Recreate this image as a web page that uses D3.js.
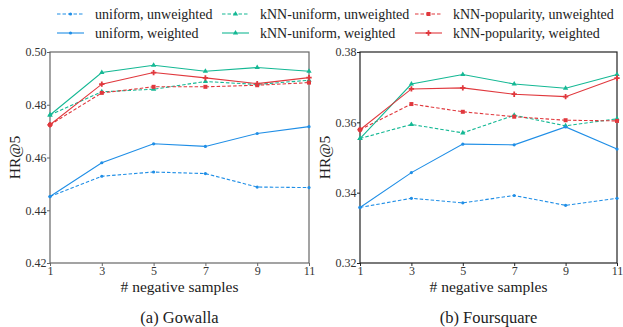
<!DOCTYPE html>
<html><head><meta charset="utf-8">
<script src="https://cdn.jsdelivr.net/npm/d3@7"></script>
<style>body{margin:0;background:#fff;} svg{display:block;} svg text{font-family:'Liberation Serif';}</style>
</head><body>
<script>
const xValues = [1, 3, 5, 7, 9, 11];
const seriesNames = ["uniform, unweighted","kNN-uniform, unweighted","kNN-popularity, unweighted","uniform, weighted","kNN-uniform, weighted","kNN-popularity, weighted"];
// Gowalla
const gowallaUniformUnw = [0.4452, 0.4529, 0.4545, 0.4539, 0.4488, 0.4486];
const gowallaKnnUniUnw = [0.4761, 0.4849, 0.4859, 0.4888, 0.4877, 0.4893];
const gowallaKnnPopUnw = [0.4724, 0.4845, 0.4868, 0.4868, 0.4874, 0.4884];
const gowallaUniformW = [0.4452, 0.4580, 0.4652, 0.4642, 0.4691, 0.4717];
const gowallaKnnUniW = [0.4761, 0.4922, 0.4950, 0.4927, 0.4941, 0.4927];
const gowallaKnnPopW = [0.4724, 0.4878, 0.4922, 0.4902, 0.4880, 0.4903];
// Foursquare
const fsqUniformUnw = [0.3358, 0.3384, 0.3371, 0.3392, 0.3364, 0.3384];
const fsqKnnUniUnw = [0.3554, 0.3594, 0.3570, 0.3620, 0.3590, 0.3610];
const fsqKnnPopUnw = [0.3579, 0.3652, 0.3630, 0.3616, 0.3606, 0.3604];
const fsqUniformW = [0.3358, 0.3457, 0.3538, 0.3536, 0.3587, 0.3524];
const fsqKnnUniW = [0.3554, 0.3709, 0.3736, 0.3709, 0.3697, 0.3736];
const fsqKnnPopW = [0.3579, 0.3695, 0.3698, 0.3680, 0.3673, 0.3726];
const gowallaYTicks = [0.42, 0.44, 0.46, 0.48, 0.50];
const fsqYTicks = [0.32, 0.34, 0.36, 0.38];

const colors = ["#1f8ee6","#14b894","#e0383d","#1f8ee6","#14b894","#e0383d"];
const dashed = [true,true,true,false,false,false];
const markers = ["circle","triangle","square","circle","triangle","cross"];
const FONT = "Liberation Serif";

const W=623,H=327;
const svg=d3.select("body").append("svg").attr("width",W).attr("height",H);

function drawMarker(g, type, x, y, color){
  if(type==="circle") g.append("circle").attr("cx",x).attr("cy",y).attr("r",1.6).attr("fill",color);
  else if(type==="square") g.append("rect").attr("x",x-2).attr("y",y-2).attr("width",4).attr("height",4).attr("fill",color);
  else if(type==="triangle") g.append("path").attr("d",d3.symbol(d3.symbolTriangle,12)()).attr("transform",`translate(${x},${y})`).attr("fill",color);
  else g.append("path").attr("d",d3.symbol(d3.symbolCross,16)()).attr("transform",`translate(${x},${y})`).attr("fill",color);
}

function panel(x0,x1,yTop,yBot,domain,ticks,series,title,ylabX,frame){
  const x=d3.scaleLinear().domain([1,11]).range([x0,x1]);
  const y=d3.scaleLinear().domain(domain).range([yBot,yTop]);
  const g=svg.append("g");
  const yAxis=g.append("g").attr("transform",`translate(${x0},0)`).call(d3.axisLeft(y).tickValues(ticks).tickFormat(d3.format(".2f")).tickSize(3));
  const xAxis=g.append("g").attr("transform",`translate(0,${yBot})`).call(d3.axisBottom(x).tickValues(xValues).tickFormat(d3.format("d")).tickSize(3));
  [yAxis,xAxis].forEach(a=>{a.attr("font-family",FONT); a.selectAll("text").attr("font-size",12).attr("fill","#333").style("font-family",FONT); a.selectAll("line").attr("stroke",frame); a.select(".domain").remove();});
  yAxis.selectAll("text").attr("x",-3.5);
  xAxis.selectAll("text").attr("y",3.5);
  g.append("rect").attr("x",x0).attr("y",yTop).attr("width",x1-x0).attr("height",yBot-yTop).attr("fill","none").attr("stroke",frame).attr("stroke-width",1.2);
  const line=d3.line().x((d,i)=>x(xValues[i])).y(d=>y(d));
  series.forEach((s,k)=>{
    g.append("path").datum(s).attr("d",line).attr("fill","none").attr("stroke",colors[k]).attr("stroke-width",1.1).attr("stroke-dasharray",dashed[k]?"3.5,2":null);
    s.forEach((v,i)=>drawMarker(g,markers[k],x(xValues[i]),y(v),colors[k]));
  });
  const t=(sel,fs)=>sel.style("font-family",FONT).attr("fill","#222").attr("font-size",fs);
  t(g.append("text").attr("x",(x0+x1)/2).attr("y",292).attr("text-anchor","middle").text("# negative samples"),15.5);
  t(g.append("text").attr("x",(x0+x1)/2).attr("y",323).attr("text-anchor","middle").text(title),16.5);
  t(g.append("text").attr("transform",`translate(${ylabX},${(yTop+yBot)/2}) rotate(-90)`).attr("text-anchor","middle").text("HR@5"),15.5);
}

panel(50,309,52,263,[0.42,0.50],gowallaYTicks,[gowallaUniformUnw,gowallaKnnUniUnw,gowallaKnnPopUnw,gowallaUniformW,gowallaKnnUniW,gowallaKnnPopW],"(a) Gowalla",20,"#666");
panel(360,617,52,263,[0.32,0.38],fsqYTicks,[fsqUniformUnw,fsqKnnUniUnw,fsqKnnPopUnw,fsqUniformW,fsqKnnUniW,fsqKnnPopW],"(b) Foursquare",330,"#222");

// legend
const legX=[57,222,415], legTextX=[95,260,453], legY=[14,33];
seriesNames.forEach((name,k)=>{
  const col=k%3,row=Math.floor(k/3);
  const lg=svg.append("g");
  lg.append("line").attr("x1",legX[col]).attr("x2",legX[col]+27).attr("y1",legY[row]).attr("y2",legY[row]).attr("stroke",colors[k]).attr("stroke-width",1.1).attr("stroke-dasharray",dashed[k]?"3.5,2":null);
  drawMarker(lg,markers[k],legX[col]+13.5,legY[row],colors[k]);
  lg.append("text").attr("x",legTextX[col]).attr("y",legY[row]+5).attr("font-size",14).style("font-family",FONT).attr("fill","#222").text(name);
});
</script>
</body></html>
